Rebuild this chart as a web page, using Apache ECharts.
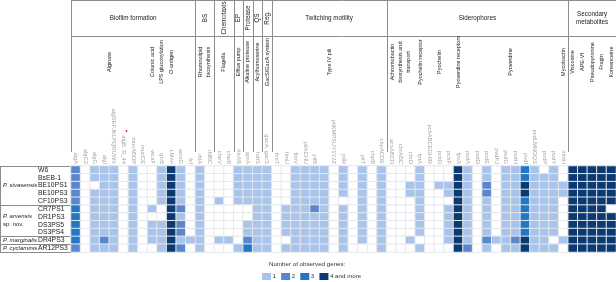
<!DOCTYPE html>
<html>
<head>
<meta charset="utf-8">
<script src="https://cdn.jsdelivr.net/npm/echarts@6/dist/echarts.min.js"></script>
<style>
  html, body { margin: 0; padding: 0; background: #fff; }
  #chart { width: 616px; height: 282px; }
</style>
</head>
<body>
<div id="chart"></div>
<script>
// gene columns (x axis)
const genes = [
  'algA', 'algC2', 'algG', 'algI', 'algDEFJKLPQRUWX', 'algB, R_44', 'mucABDP', 'mucCE',
  'wcaF', 'gtrB', 'LMnn', 'wcnG', 'fcl', 'rhlA', 'rhlBC', 'cheV', 'cheB', 'AtrAB', 'aprA',
  'hdtS', 'gacA, gacS', 'fimT', 'fimU', 'fimV', 'pilACHU', 'pilB', '', 'pilKMPSUY1Y2Z',
  'pilR', '', 'pilT', 'chpB', 'chpACDE', 'acsABCD', 'cbrABC', 'cbrD', 'fptA', 'pchABCEGHIR',
  'pchD', 'pchF', 'fpvA', 'pvdA', 'pvdD', 'pvdE', 'pvdFJ', 'pvdG', 'pvdH', 'pvdI',
  'pvdLMNOQS', 'pvdP', 'pvdY', 'mbtH', '', '', '', '', ''
];
// strains (rows)
const strains = ['W6', 'BsEB-1', 'BE10PS1', 'BE10PS3', 'CF10PS3', 'CR7PS1', 'DR1PS3',
  'DS3PS5', 'DS3PS4', 'DR4PS3', 'AR12PS3'];
// species groups: name, first row, last row
const species = [
  ['{i|P. sivasensis}', 0, 4],
  ['{i|P. arvensis}\n{n|sp. nov.}', 5, 8],
  ['{i|P. marginalis}', 9, 9],
  ['{i|P. cyclaminis}', 10, 10]
];
// top header: name, first col, last col, rotated
const categories = [
  ['Biofilm formation', 0, 12, false],
  ['BS', 13, 14, true],
  ['Chemotaxis', 15, 16, true],
  ['EP', 17, 17, true],
  ['Protease', 18, 18, true],
  ['QS', 19, 19, true],
  ['Reg.', 20, 20, true],
  ['Twitching motility', 21, 32, false],
  ['Siderophores', 33, 51, false],
  ['Secondary\nmetabolites', 52, 56, false]
];
// second header: name, first col, last col
const subcategories = [
  ['Alginate', 0, 7],
  ['Colanic acid', 8, 8],
  ['LPS glucosylation', 9, 9],
  ['O-antigen', 10, 10],
  ['Rhamnolipid\nbiosynthesis', 13, 14],
  ['Flagella', 15, 16],
  ['Efflux pump', 17, 17],
  ['Alkaline protease', 18, 18],
  ['Acylhomoserine', 19, 19],
  ['GacS/GacA system', 20, 20],
  ['Type IV pili', 21, 32],
  ['Achromobactin\nbiosynthesis and\ntransport', 33, 35],
  ['Pyochelin receptor', 36, 36],
  ['Pyochelin', 37, 39],
  ['Pyoverdine receptors', 40, 40],
  ['Pyoverdine', 41, 50],
  ['Mycobactin', 51, 51],
  ['Viscosine', 52, 52],
  ['APE-Vf', 53, 53],
  ['Pseudopyronine', 54, 54],
  ['Fragin', 55, 55],
  ['Koreenceine', 56, 56]
];
// number of observed genes, one list per strain (same order as genes)
const counts = [
  [2,0,1,1,1,0,1,0,0,1,4,1,0,1,0,0,0,1,1,1,1,0,0,1,1,1,1,0,1,0,1,0,1,0,0,0,1,0,0,0,4,1,0,1,0,1,1,3,1,0,1,0,4,4,4,4,4],
  [2,0,1,1,1,0,1,0,0,1,4,1,0,1,0,0,0,1,1,1,1,0,0,1,1,1,1,0,1,0,1,0,1,0,0,0,1,0,0,0,4,1,0,1,0,1,1,3,1,1,1,0,4,4,4,4,4],
  [2,0,0,1,1,0,1,0,0,1,4,1,0,1,0,0,0,1,1,1,1,0,0,1,1,1,1,0,1,0,1,0,1,0,0,1,1,0,1,1,4,1,0,2,0,1,1,4,1,1,1,1,4,4,4,4,4],
  [2,0,1,1,1,0,1,0,0,1,4,1,0,1,0,0,0,1,1,1,1,0,0,1,1,1,1,0,1,0,1,0,1,0,0,1,1,0,0,1,4,1,0,2,0,1,1,4,1,1,1,1,4,4,4,4,4],
  [2,0,1,1,1,0,1,0,0,1,4,1,0,1,0,1,0,1,1,1,1,0,0,1,1,1,1,0,0,0,1,0,1,0,0,0,1,0,0,0,4,1,0,1,0,1,1,3,1,1,1,0,4,4,4,4,4],
  [3,0,1,1,1,0,1,0,1,0,4,2,0,1,0,0,0,0,0,1,1,0,1,1,1,2,1,0,1,0,1,0,1,0,0,0,1,0,0,1,4,1,0,1,0,1,1,3,1,1,1,0,4,4,4,4,0],
  [3,0,1,1,1,0,1,0,0,0,4,1,0,1,0,0,0,0,0,1,1,0,1,1,1,1,1,0,1,0,1,0,1,0,0,0,1,0,0,1,4,1,0,1,0,1,1,3,1,1,1,0,4,4,4,4,4],
  [3,0,1,1,1,0,1,0,1,1,4,2,0,1,0,0,0,0,1,1,1,0,1,1,1,1,1,0,1,0,1,0,1,0,0,0,1,0,0,1,4,1,0,1,0,1,1,3,1,1,1,0,4,4,4,4,4],
  [3,0,1,1,1,0,1,0,1,1,4,2,0,1,0,0,0,0,1,1,1,0,1,1,1,1,1,0,1,0,1,0,1,0,0,0,1,0,0,1,4,1,0,1,0,1,1,3,1,1,1,0,4,4,4,4,4],
  [3,0,1,2,1,0,1,0,1,1,4,1,1,1,0,1,1,0,2,1,1,0,0,1,1,1,1,0,1,0,1,0,1,0,0,1,0,0,0,1,4,1,0,2,1,1,2,4,1,1,0,1,4,4,4,4,4],
  [2,0,1,1,1,0,1,0,0,1,4,2,0,1,0,0,0,1,3,1,1,0,1,1,1,1,1,0,1,0,0,0,1,0,0,0,1,0,0,0,4,2,0,1,0,1,1,4,1,1,1,0,4,4,4,4,4]
];
const levelLabels = ['1', '2', '3', '4 and more'];
const levelColors = ['#a9c4ea', '#5a87cb', '#1f77c5', '#0b3a72'];

const FONT = '"Liberation Sans", Arial, sans-serif';
const chart = echarts.init(document.getElementById('chart'));

const cells = [];
counts.forEach((row, r) => row.forEach((v, c) => cells.push([c, r, v])));

chart.setOption({
  animation: false,
  textStyle: { fontFamily: FONT },
  grid: { left: 71, right: 0, top: 166, bottom: 30 },
  xAxis: {
    type: 'category',
    data: genes,
    position: 'top',
    axisLine: { show: false },
    axisTick: { show: false },
    splitLine: { show: false },
    axisLabel: { interval: 0, rotate: 90, fontSize: 5.8, color: '#a3a3a3', margin: 2 }
  },
  yAxis: {
    type: 'category',
    data: strains,
    inverse: true,
    axisLine: { show: false },
    axisTick: { show: false },
    axisLabel: { interval: 0, fontSize: 6.8, color: '#222', align: 'left', margin: 33 }
  },
  visualMap: {
    type: 'piecewise',
    show: false,
    pieces: [
      { value: 1, color: levelColors[0] },
      { value: 2, color: levelColors[1] },
      { value: 3, color: levelColors[2] },
      { gte: 4, color: levelColors[3] }
    ],
    outOfRange: { color: '#ffffff' }
  },
  series: [{
    type: 'heatmap',
    data: cells,
    itemStyle: { borderColor: '#e4e7ec', borderWidth: 1 },
    emphasis: { disabled: true }
  }]
});

// header boxes, labels and species boxes placed from the axis scales
const px = (c, r) => chart.convertToPixel({ gridIndex: 0 }, [c, r]);
const cw = px(1, 0)[0] - px(0, 0)[0];
const rh = px(0, 1)[1] - px(0, 0)[1];
const colEdge = c => px(0, 0)[0] - cw / 2 + c * cw;
const rowEdge = r => px(0, 0)[1] - rh / 2 + r * rh;
const crisp = v => Math.round(v) + 0.5;
const lineStyle = { stroke: '#8c8c8c', lineWidth: 1 };
const g = [];
const line = (x1, y1, x2, y2) => g.push({ type: 'line', silent: true,
  shape: { x1, y1, x2, y2 }, style: lineStyle });
const text = (str, x, y, rot, font, extra) => g.push({
  type: 'text', silent: true, x, y, rotation: rot ? Math.PI / 2 : 0,
  style: Object.assign({ text: str, fill: '#222', font, align: 'center', verticalAlign: 'middle',
    textAlign: 'center', textVerticalAlign: 'middle' }, extra || {})
});

const headerBottom = 36;
const gridRight = colEdge(genes.length);
line(colEdge(0), 0.5, gridRight, 0.5);
line(colEdge(0), crisp(headerBottom), gridRight, crisp(headerBottom));
categories.forEach(([name, a, b, rot]) => {
  line(crisp(colEdge(a)), 0, crisp(colEdge(a)), 152);
  const cx = (colEdge(a) + colEdge(b + 1)) / 2;
  text(name, cx, 18, rot, '6.3px ' + FONT, { lineHeight: 8 });
});
subcategories.forEach(([name, a, b]) => {
  const cx = (colEdge(a) + colEdge(b + 1)) / 2;
  text(name, cx, 62, true, '5.5px ' + FONT, { lineHeight: 8 });
});

// species boxes on the left
const gridTop = rowEdge(0), gridBottom = rowEdge(strains.length);
line(0.5, crisp(gridTop), 0.5, crisp(gridBottom));
line(0, crisp(gridTop), colEdge(0), crisp(gridTop));
species.forEach(([name, a, b]) => {
  line(0, crisp(rowEdge(b + 1)), colEdge(0), crisp(rowEdge(b + 1)));
  const cy = (rowEdge(a) + rowEdge(b + 1)) / 2;
  text(name, 3, cy, false, '6px ' + FONT, {
    align: 'left', textAlign: 'left', lineHeight: 8,
    rich: { i: { fontStyle: 'italic', fontSize: 6, fontFamily: FONT, fill: '#222' },
            n: { fontSize: 6, fontFamily: FONT, fill: '#222' } }
  });
});

// small red mark next to the algB label
g.push({ type: 'circle', silent: true, shape: { cx: 126.5, cy: 131, r: 0.9 }, style: { fill: '#c0282d' } });

// legend: title, then a swatch and label per level
const legendFont = '6.2px ' + FONT;
text('Number of observed genes:', 269, 264, false, legendFont,
  { align: 'left', textAlign: 'left', fill: '#333' });
const measure = document.createElement('canvas').getContext('2d');
measure.font = legendFont;
let lx = 262;
levelLabels.forEach((lab, i) => {
  g.push({ type: 'rect', silent: true, shape: { x: lx, y: 273, width: 9, height: 7 },
    style: { fill: levelColors[i] } });
  text(lab, lx + 10.5, 276.5, false, legendFont, { align: 'left', textAlign: 'left', fill: '#333' });
  lx += 10.5 + measure.measureText(lab).width + 5.2;
});

chart.setOption({ graphic: g });
</script>
</body>
</html>
